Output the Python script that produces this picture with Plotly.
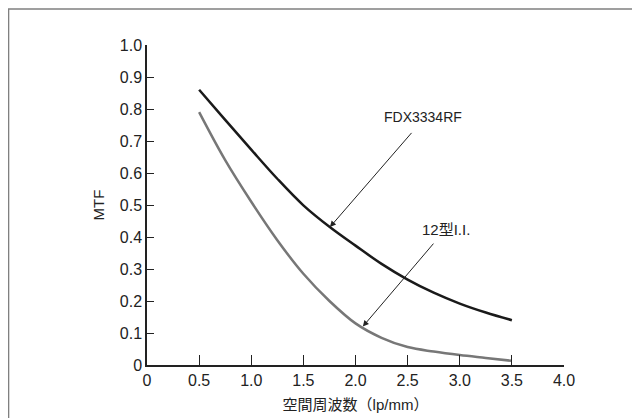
import plotly.graph_objects as go

freq = [0.5, 0.75, 1.0, 1.25, 1.5, 1.75, 2.0, 2.25, 2.5, 2.75, 3.0, 3.25, 3.5]
mtf_fdx = [0.86, 0.766, 0.673, 0.582, 0.499, 0.432, 0.373, 0.316, 0.267, 0.226, 0.192, 0.164, 0.14]
mtf_ii = [0.79, 0.64, 0.51, 0.39, 0.285, 0.2, 0.13, 0.085, 0.056, 0.042, 0.031, 0.022, 0.013]

x_ticks = [0, 0.5, 1.0, 1.5, 2.0, 2.5, 3.0, 3.5, 4.0]
x_ticktext = ["0", "0.5", "1.0", "1.5", "2.0", "2.5", "3.0", "3.5", "4.0"]
y_ticks = [0, 0.1, 0.2, 0.3, 0.4, 0.5, 0.6, 0.7, 0.8, 0.9, 1.0]
y_ticktext = ["0", "0.1", "0.2", "0.3", "0.4", "0.5", "0.6", "0.7", "0.8", "0.9", "1.0"]

FONT = "Liberation Sans, Arial, Noto Sans CJK JP, sans-serif"

fig = go.Figure()
fig.add_trace(go.Scatter(x=freq, y=mtf_fdx, mode="lines", line=dict(color="#1a1a1a", width=2.5, shape="spline", smoothing=1.0),
                         name="FDX3334RF", showlegend=False, hoverinfo="skip"))
fig.add_trace(go.Scatter(x=freq, y=mtf_ii, mode="lines", line=dict(color="#777777", width=2.5, shape="spline", smoothing=1.0),
                         name="12型I.I.", showlegend=False, hoverinfo="skip"))

fig.add_annotation(x=1.755, y=0.431, ax=2.55, ay=0.73, xref="x", yref="y", axref="x", ayref="y",
                   text="", showarrow=True, arrowhead=2, arrowsize=1.2, arrowwidth=1, arrowcolor="#222")
fig.add_annotation(x=2.65, y=0.745, xref="x", yref="y", text="FDX3334RF", showarrow=False,
                   yanchor="bottom", font=dict(family=FONT, size=14, color="#222"))
fig.add_annotation(x=2.07, y=0.12, ax=2.76, ay=0.384, xref="x", yref="y", axref="x", ayref="y",
                   text="", showarrow=True, arrowhead=2, arrowsize=1.2, arrowwidth=1, arrowcolor="#222")
fig.add_annotation(x=2.87, y=0.39, xref="x", yref="y", text="12型I.I.", showarrow=False,
                   yanchor="bottom", font=dict(family=FONT, size=15, color="#222"))

# outer frame
fig.add_shape(type="rect", xref="paper", yref="paper", x0=-0.332, x1=1.3, y0=-0.3, y1=1.1125,
              line=dict(color="#808080", width=1.5), fillcolor="rgba(0,0,0,0)", layer="below")

fig.update_layout(
    width=640, height=418,
    margin=dict(l=139, r=84, t=37, b=61),
    paper_bgcolor="white", plot_bgcolor="white",
    font=dict(family=FONT, size=15, color="#222"),
    xaxis=dict(range=[0, 4.0], tickvals=x_ticks, ticktext=x_ticktext, ticks="inside", ticklen=10,
               tickwidth=1.2, tickcolor="#222", showline=True, linecolor="#222", linewidth=1.5,
               tickfont=dict(size=16),
               showgrid=False, zeroline=False, title=dict(text="空間周波数（lp/mm）", standoff=12,
               font=dict(family=FONT, size=15)), fixedrange=True),
    yaxis=dict(range=[0, 1.0], tickvals=y_ticks, ticktext=y_ticktext, ticks="inside", ticklen=7,
               tickwidth=1.2, tickcolor="#222", showline=True, linecolor="#222", linewidth=1.5,
               tickfont=dict(size=16),
               showgrid=False, zeroline=False, title=dict(text="MTF", standoff=12,
               font=dict(family=FONT, size=15)), fixedrange=True),
)

fig.write_html("out.html")
